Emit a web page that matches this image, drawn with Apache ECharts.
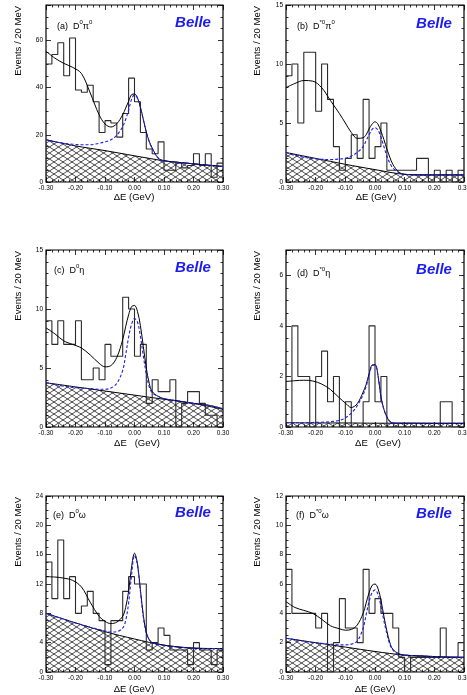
<!DOCTYPE html>
<html>
<head>
<meta charset="utf-8">
<script src="https://cdn.jsdelivr.net/npm/echarts@6/dist/echarts.min.js"></script>
<style>
html, body { margin: 0; padding: 0; background: #fff; }
#chart { width: 467px; height: 695px; }
</style>
</head>
<body>
<div id="chart"></div>
<script>
// 30 bins of 20 MeV from -0.30 GeV
const binStart = -0.30
const binWidth = 0.02
const xTicks = [-0.3, -0.2, -0.1, 0, 0.1, 0.2, 0.3]

const histA = [50, 54, 59, 45, 61, 39, 38, 41, 34, 21, 26, 25, 19, 29, 44, 34, 21, 14, 12, 17, 5, 5, 8, 6, 7, 12, 7, 12, 2, 8]
const histB = [9, 10, 5, 11, 11, 6, 10, 7, 3, 1, 2, 4, 2, 7, 2, 3, 5, 1, 1, 1, 1, 1, 2, 2, 0, 1, 0, 1, 0, 1]
const histC = [9, 7, 9, 7, 7, 9, 4, 4, 5, 4, 7, 6, 6, 11, 10, 6, 7, 2, 4, 3, 3, 4, 0, 2, 3, 3, 2, 1, 1, 0]
const histD = [0, 4, 2, 2, 0, 2, 3, 1, 2, 0, 1, 0, 0, 1, 4, 1, 2, 0, 0, 0, 0, 0, 0, 0, 0, 0, 1, 1, 0, 0]
const histE = [15, 10, 18, 10, 13, 8, 9, 11, 8, 7, 1, 7, 7, 11, 13, 12, 12, 3, 4, 6, 5, 3, 3, 3, 1, 4, 3, 3, 1, 3]
const histF = [7, 4, 4, 4, 4, 3, 4, 0, 2, 5, 3, 3, 2, 7, 4, 5, 4, 4, 3, 1, 0, 1, 1, 1, 1, 1, 3, 1, 1, 2]

// fit curves, sampled at fitX
const fitX = [-0.30, -0.27, -0.24, -0.21, -0.18, -0.15, -0.12, -0.10, -0.08, -0.06, -0.04, -0.03, -0.02, -0.01, 0, 0.01, 0.02, 0.03, 0.04, 0.05, 0.06, 0.08, 0.10, 0.15, 0.20, 0.25, 0.30]

const totalA = [55.4, 52.5, 50.3, 48.6, 46.0, 37.7, 28.5, 24.6, 23.3, 24.7, 28.5, 31.3, 34.2, 37.0, 37.3, 35.7, 31.8, 26.5, 21.2, 17.2, 14.4, 10.2, 9.0, 8.3, 7.7, 7.1, 6.6]
const sigA = [18.0, 17.0, 16.4, 16.0, 15.8, 15.8, 16.4, 17.0, 17.9, 19.8, 23.5, 26.5, 30.5, 35.0, 37.0, 35.5, 31.6, 26.3, 21.0, 17.0, 14.2, 10.1, 9.0, 8.3, 7.7, 7.1, 6.6]
const totalB = [8.0, 8.35, 8.6, 8.55, 8.0, 6.9, 5.8, 5.0, 4.2, 3.7, 3.75, 4.0, 4.5, 4.9, 5.1, 4.9, 4.3, 3.6, 2.8, 2.1, 1.5, 0.85, 0.65, 0.6, 0.6, 0.6, 0.6]
const sigB = [2.5, 2.25, 2.1, 1.97, 1.92, 1.9, 1.95, 2.0, 2.2, 2.5, 3.0, 3.5, 4.0, 4.45, 4.6, 4.4, 3.8, 3.0, 2.2, 1.6, 1.2, 0.8, 0.65, 0.6, 0.6, 0.6, 0.6]
const totalC = [8.4, 7.9, 7.3, 7.0, 6.7, 6.1, 5.4, 5.1, 5.2, 5.9, 7.4, 8.5, 9.5, 10.2, 10.3, 9.8, 8.6, 6.8, 5.0, 3.7, 3.0, 2.6, 2.4, 2.2, 2.0, 1.85, 1.55]
const sigC = [3.75, 3.6, 3.45, 3.35, 3.3, 3.25, 3.2, 3.2, 3.3, 3.7, 4.8, 6.1, 7.6, 8.7, 9.2, 8.9, 7.7, 6.0, 4.5, 3.4, 2.9, 2.6, 2.4, 2.2, 2.0, 1.85, 1.55]
const totalD = [1.8, 1.83, 1.85, 1.82, 1.7, 1.48, 1.15, 0.95, 0.77, 0.92, 1.38, 1.68, 2.1, 2.45, 2.47, 2.05, 1.2, 0.7, 0.4, 0.22, 0.16, 0.15, 0.15, 0.15, 0.15, 0.15, 0.15]
const sigD = [0.17, 0.17, 0.17, 0.18, 0.19, 0.21, 0.26, 0.36, 0.55, 0.84, 1.28, 1.6, 2.05, 2.42, 2.45, 2.05, 1.2, 0.7, 0.4, 0.22, 0.16, 0.15, 0.15, 0.15, 0.15, 0.15, 0.15]
const totalE = [13.0, 12.95, 12.8, 12.5, 11.6, 9.5, 7.6, 6.9, 6.6, 6.8, 7.6, 8.8, 11.0, 14.3, 16.2, 14.8, 11.2, 7.7, 5.4, 4.4, 4.0, 3.8, 3.65, 3.4, 3.25, 3.2, 3.2]
const sigE = [8.0, 7.6, 7.2, 6.8, 6.45, 6.1, 5.8, 5.6, 5.45, 5.5, 6.0, 7.0, 9.4, 13.2, 15.9, 14.6, 11.0, 7.5, 5.3, 4.4, 4.0, 3.8, 3.65, 3.4, 3.25, 3.2, 3.2]
const totalF = [4.8, 4.4, 4.2, 4.0, 3.6, 3.15, 2.95, 2.85, 2.9, 3.2, 4.0, 4.7, 5.4, 5.9, 6.0, 5.7, 4.9, 3.8, 2.8, 2.0, 1.55, 1.25, 1.15, 1.1, 1.05, 1.0, 1.0]
const sigF = [2.3, 2.2, 2.1, 2.0, 1.95, 1.9, 1.85, 1.85, 1.9, 2.1, 3.0, 3.9, 4.8, 5.4, 5.6, 5.3, 4.5, 3.5, 2.6, 1.9, 1.5, 1.2, 1.15, 1.1, 1.05, 1.0, 1.0]

// hatched background component, sampled at bgX
const bgX = [-0.30, -0.20, -0.10, 0, 0.10, 0.20, 0.30]
const bgA = [17.9, 15.3, 13.3, 11.1, 9.0, 7.7, 6.6]
const bgB = [2.5, 2.0, 1.5, 1.05, 0.65, 0.6, 0.6]
const bgC = [3.75, 3.4, 3.05, 2.7, 2.35, 2.0, 1.5]
const bgD = [0.17, 0.16, 0.16, 0.15, 0.15, 0.14, 0.14]
const bgE = [8.0, 6.7, 5.5, 4.5, 3.65, 3.25, 3.2]
const bgF = [2.3, 2.0, 1.7, 1.4, 1.15, 1.05, 1.0]

const yMaxes = [75, 15, 15, 7, 24, 12]
const yIntervals = [20, 5, 5, 2, 4, 2]

const FONT = 'Liberation Sans, Arial, Helvetica, sans-serif'

const panels = [
  { grid: { left: 46, top: 5, width: 177, height: 177 }, hist: histA, total: totalA, sig: sigA, bg: bgA, minor: 4, showMax: false,
    name: '{n|(a)  D}{s|0}{n|\u03c0}{s|0}', nameX: 57, nameY: 25, belleX: 193, belleY: 23, titleX: 134, titleY: 197, eText: '\u0394E (GeV)', yTitleX: 18 },
  { grid: { left: 286, top: 5, width: 178, height: 177 }, hist: histB, total: totalB, sig: sigB, bg: bgB, minor: 5, showMax: true,
    name: '{n|(b)  D}{s|*0}{n|\u03c0}{s|0}', nameX: 297, nameY: 25, belleX: 434, belleY: 24, titleX: 376, titleY: 197, eText: '\u0394E (GeV)', yTitleX: 257 },
  { grid: { left: 46, top: 250, width: 177, height: 177 }, hist: histC, total: totalC, sig: sigC, bg: bgC, minor: 5, showMax: true,
    name: '{n|(c)  D}{s|0}{n|\u03b7}', nameX: 54, nameY: 269, belleX: 193, belleY: 268, titleX: 137, titleY: 443, eText: '\u0394E   (GeV)', yTitleX: 18 },
  { grid: { left: 286, top: 250, width: 178, height: 177 }, hist: histD, total: totalD, sig: sigD, bg: bgD, minor: 4, showMax: false,
    name: '{n|(d)  D}{s|*0}{n|\u03b7}', nameX: 297, nameY: 272, belleX: 434, belleY: 270, titleX: 378, titleY: 443, eText: '\u0394E   (GeV)', yTitleX: 257 },
  { grid: { left: 46, top: 496, width: 177, height: 176 }, hist: histE, total: totalE, sig: sigE, bg: bgE, minor: 4, showMax: true,
    name: '{n|(e)  D}{s|0}{n|\u03c9}', nameX: 53, nameY: 514, belleX: 193, belleY: 513, titleX: 134, titleY: 689, eText: '\u0394E (GeV)', yTitleX: 18 },
  { grid: { left: 286, top: 496, width: 178, height: 176 }, hist: histF, total: totalF, sig: sigF, bg: bgF, minor: 4, showMax: true,
    name: '{n|(f)  D}{s|*0}{n|\u03c9}', nameX: 296, nameY: 514, belleX: 434, belleY: 514, titleX: 375, titleY: 689, eText: '\u0394E (GeV)', yTitleX: 257 },
]

function hatchPattern() {
  const c = document.createElement('canvas')
  c.width = 9
  c.height = 6
  const g = c.getContext('2d')
  g.strokeStyle = '#000'
  g.lineWidth = 0.7
  const k = 6 / 9
  for (const dy of [-6, 0, 6]) {
    g.beginPath(); g.moveTo(-1, dy - k); g.lineTo(10, dy + 10 * k); g.stroke()
    g.beginPath(); g.moveTo(-1, 6 + dy + k); g.lineTo(10, 6 + dy - 10 * k); g.stroke()
  }
  return c
}
const hatch = { image: hatchPattern(), repeat: 'repeat' }

const tickLine = { color: '#000', width: 0.8 }
const grids = [], xAxes = [], yAxes = [], series = [], graphics = []

panels.forEach((p, i) => {
  grids.push(Object.assign({ show: true, borderColor: '#000', borderWidth: 1.2, backgroundColor: 'transparent', containLabel: false, outerBoundsMode: 'none' }, p.grid))

  const xBase = {
    gridIndex: i, type: 'value', min: xTicks[0], max: xTicks[xTicks.length - 1], interval: 0.1,
    axisLine: { show: false, onZero: false }, splitLine: { show: false },
    axisTick: { inside: true, length: 5, lineStyle: tickLine },
    minorTick: { show: true, splitNumber: 5, length: 2.5, lineStyle: tickLine },
  }
  xAxes.push(Object.assign({}, xBase, {
    position: 'bottom',
    axisLabel: { fontSize: 6.5, fontFamily: FONT, color: '#000', margin: 3, formatter: (v) => v.toFixed(2) },
  }))
  xAxes.push(Object.assign({}, xBase, { position: 'top', axisLabel: { show: false } }))

  const yBase = {
    gridIndex: i, type: 'value', min: 0, max: yMaxes[i], interval: yIntervals[i],
    axisLine: { show: false, onZero: false }, splitLine: { show: false },
    axisTick: { inside: true, length: 5, lineStyle: tickLine },
    minorTick: { show: true, splitNumber: p.minor, length: 2.5, lineStyle: tickLine },
  }
  yAxes.push(Object.assign({}, yBase, {
    position: 'left',
    axisLabel: { fontSize: 6.5, fontFamily: FONT, color: '#000', margin: 3, showMaxLabel: p.showMax },
  }))
  yAxes.push(Object.assign({}, yBase, { position: 'right', axisLabel: { show: false } }))

  const ax = { xAxisIndex: 2 * i, yAxisIndex: 2 * i, symbol: 'none', silent: true }

  series.push(Object.assign({}, ax, {
    type: 'line', smooth: 0.3, z: 1,
    data: bgX.map((x, j) => [x, p.bg[j]]),
    lineStyle: { color: '#000', width: 1 },
    areaStyle: { color: hatch, opacity: 1 },
  }))

  const histData = p.hist.map((v, j) => [+(binStart + j * binWidth).toFixed(2), v])
  histData.push([+(binStart + p.hist.length * binWidth).toFixed(2), p.hist[p.hist.length - 1]])
  series.push(Object.assign({}, ax, {
    type: 'line', step: 'end', z: 2, data: histData,
    lineStyle: { color: '#2a2a2a', width: 1.1 },
  }))

  series.push(Object.assign({}, ax, {
    type: 'line', smooth: 0.35, z: 3,
    data: fitX.map((x, j) => [x, p.total[j]]),
    lineStyle: { color: '#000', width: 1 },
  }))
  series.push(Object.assign({}, ax, {
    type: 'line', smooth: 0.35, z: 4,
    data: fitX.map((x, j) => [x, p.sig[j]]),
    lineStyle: { color: '#1c1cf0', width: 1.1, type: [3, 2] },
  }))

  graphics.push({
    type: 'text', x: p.nameX, y: p.nameY, z: 10,
    style: {
      text: p.name, fill: '#000', textAlign: 'left', textVerticalAlign: 'middle',
      rich: {
        n: { fontSize: 9, fontFamily: FONT, lineHeight: 12, verticalAlign: 'bottom' },
        s: { fontSize: 6, fontFamily: FONT, lineHeight: 6, verticalAlign: 'top' },
      },
    },
  })
  graphics.push({
    type: 'text', x: p.belleX, y: p.belleY, z: 10,
    style: { text: 'Belle', fill: '#1c1cf0', fontSize: 15, fontWeight: 'bold', fontStyle: 'italic', fontFamily: FONT, textAlign: 'center', textVerticalAlign: 'middle' },
  })
  graphics.push({
    type: 'text', x: p.titleX, y: p.titleY, z: 10,
    style: { text: p.eText, fill: '#000', fontSize: 9.5, fontFamily: FONT, textAlign: 'center', textVerticalAlign: 'middle' },
  })
  graphics.push({
    type: 'text', x: p.yTitleX, y: p.grid.top + 1, rotation: Math.PI / 2, z: 10,
    style: { text: 'Events / 20 MeV', fill: '#000', fontSize: 9.5, fontFamily: FONT, textAlign: 'right', textVerticalAlign: 'middle' },
  })
})

const chart = echarts.init(document.getElementById('chart'), null, { renderer: 'canvas' })
chart.setOption({
  animation: false,
  backgroundColor: '#fff',
  grid: grids,
  xAxis: xAxes,
  yAxis: yAxes,
  series: series,
  graphic: graphics,
})
</script>
</body>
</html>
